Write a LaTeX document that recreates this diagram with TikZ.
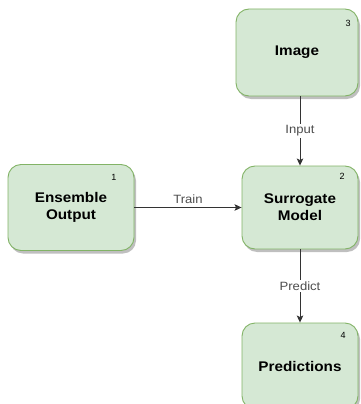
\documentclass[tikz,border=0pt]{standalone}
\usepackage{fontspec}
\setmainfont{Liberation Sans}
\usetikzlibrary{arrows.meta,shadows}
\definecolor{boxfill}{HTML}{D5E8D4}
\definecolor{boxline}{HTML}{82B366}
\definecolor{edgeline}{HTML}{333333}
\definecolor{labelgray}{HTML}{4D4D4D}
\newcommand{\widetext}[1]{\scalebox{1.09}[1]{#1}}
\tikzset{
  stage/.style={draw=boxline, fill=boxfill, line width=0.9pt, rounded corners=13pt,
    align=center, inner sep=0pt,
    font=\fontsize{14}{17}\selectfont\bfseries, text=black,
    drop shadow={shadow xshift=2pt, shadow yshift=-3pt, opacity=0.25, fill=black}},
  num/.style={font=\fontsize{9}{10}\selectfont, text=black, inner sep=0pt},
  flow/.style={draw=edgeline, line width=0.9pt, -{Stealth[length=7pt,width=6.5pt,inset=1.5pt]}},
  elabel/.style={font=\fontsize{12}{14}\selectfont, text=labelgray, inner sep=1.5pt}
}
\begin{document}
\begin{tikzpicture}[x=1pt,y=-1pt]
\useasboundingbox (0,0) rectangle (360,404);
\clip (0,0) rectangle (360,404);

% process boxes
\node[stage, minimum width=126pt, minimum height=86pt] (ens) at (71,207.5)
  {\widetext{Ensemble}\\\widetext{Output}};
\node[stage, minimum width=116pt, minimum height=83pt] (surr) at (300,207.5)
  {\widetext{Surrogate}\\\widetext{Model}};
\node[stage, minimum width=122pt, minimum height=87pt] (img) at (297,52.5)
  {\widetext{Image}};
\node[stage, minimum width=116pt, minimum height=86pt] (pred) at (300,366)
  {\widetext{Predictions}};

% step numbers
\node[num] (n1) at (114,177) {1};
\node[num] (n2) at (342,176) {2};
\node[num] (n3) at (348,23) {3};
\node[num] (n4) at (343,335) {4};

% connectors
\draw[flow] (ens.east) -- (surr.west)
  node[elabel, midway, above=2pt] (ltrain) {\widetext{Train}};
\draw[flow] (img.south -| surr.north) -- (surr.north)
  node[elabel, pos=0.5, fill=white] (linput) {\widetext{Input}};
\draw[flow] (surr.south) -- (pred.north)
  node[elabel, pos=0.5, fill=white] (lpredict) {\widetext{Predict}};
\end{tikzpicture}
\end{document}
